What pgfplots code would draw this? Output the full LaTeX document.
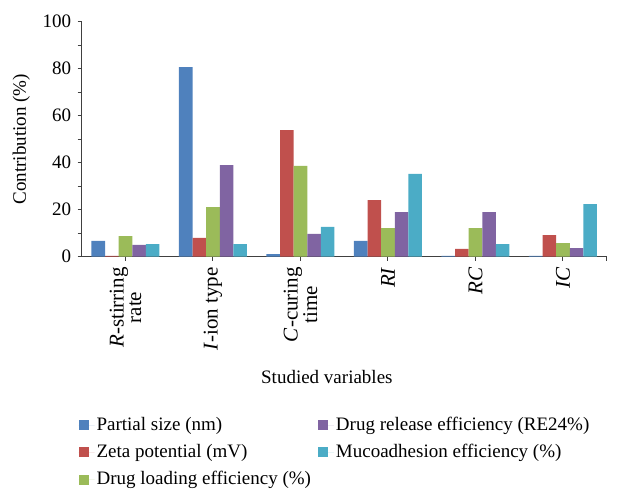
\documentclass[border=0pt]{standalone}
\usepackage{fontspec}
\setmainfont{Liberation Serif}
\usepackage{pgfplots}
\pgfplotsset{compat=1.18}
\definecolor{cP}{HTML}{4F81BD}
\definecolor{cZ}{HTML}{C0504D}
\definecolor{cD}{HTML}{9BBB59}
\definecolor{cR}{HTML}{8064A2}
\definecolor{cM}{HTML}{4BACC6}
\begin{document}
\fontsize{19}{22}\selectfont
\begin{tikzpicture}
\begin{axis}[
  at={(81.7pt,236.3pt)}, anchor=south west,
  scale only axis, width=525pt, height=235pt,
  font=\fontsize{19}{22}\selectfont,
  /pgf/number format/assume math mode=true,
  ybar=0pt, bar width=13.6pt,
  xmin=-0.5, xmax=5.5, ymin=0, ymax=100,
  axis lines*=left,
  axis line style={black!75, line width=1.2pt},
  tick style={black!75, line width=1pt},
  tick align=outside,
  major tick length=4pt, minor tick length=4pt,
  ytick={0,20,...,100}, minor ytick={10,30,...,90},
  xtick={0,1,2,3,4,5},
  xticklabels={{\textit{R}-stirring\\rate},{\textit{I}-ion type},{\textit{C}-curing\\time},{\textit{RI}},{\textit{RC}},{\textit{IC}}},
  extra x ticks={5.5}, extra x tick labels={},
  xticklabel style={rotate=90, anchor=east, align=center, font=\fontsize{21}{17.5}\selectfont},
  ylabel={Contribution (\%)},
  ylabel style={at={(axis description cs:-0.115,0.5)}, anchor=center},
  xlabel={Studied variables},
  xlabel style={at={(axis description cs:0.467,-0.512)}, anchor=center},
  legend columns=3, transpose legend,
  legend style={at={(axis description cs:-0.012,-0.664)}, anchor=north west, draw=none, fill=none,
    row sep=7pt,
    /tikz/every even column/.append style={column sep=5pt}},
  legend cell align=left,
  legend image code/.code={\fill[#1] (0pt,-5pt) rectangle (10pt,5pt); \path (0pt,0pt) -- (16pt,0pt);},
]
\addplot[fill=cP, draw=none] coordinates {(0,6.7) (1,80.7) (2,1.1) (3,6.7) (4,0.3) (5,0.3)};
\addplot[fill=cZ, draw=none] coordinates {(0,0.3) (1,8.0) (2,53.9) (3,24.1) (4,3.3) (5,9.2)};
\addplot[fill=cD, draw=none] coordinates {(0,8.8) (1,21.1) (2,38.6) (3,12.2) (4,12.2) (5,5.8)};
\addplot[fill=cR, draw=none] coordinates {(0,5.0) (1,39.0) (2,9.7) (3,19.0) (4,19.0) (5,3.7)};
\addplot[fill=cM, draw=none] coordinates {(0,5.4) (1,5.4) (2,12.7) (3,35.2) (4,5.4) (5,22.4)};
\legend{Partial size (nm), Zeta potential (mV), Drug loading efficiency (\%), Drug release efficiency (RE24\%), Mucoadhesion efficiency (\%)}
\end{axis}
\pgfresetboundingbox
\path (0pt,0pt) rectangle (639pt,493pt);
\end{tikzpicture}
\end{document}
